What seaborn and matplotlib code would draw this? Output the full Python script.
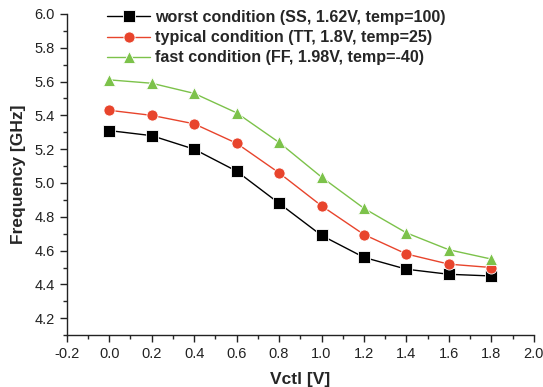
import matplotlib
matplotlib.use("Agg")
import matplotlib.pyplot as plt
from matplotlib.ticker import MultipleLocator, FormatStrFormatter
import seaborn as sns
import pandas as pd

vctl = [0.0, 0.2, 0.4, 0.6, 0.8, 1.0, 1.2, 1.4, 1.6, 1.8]
worst = [5.31, 5.28, 5.20, 5.07, 4.88, 4.69, 4.56, 4.49, 4.46, 4.45]
typical = [5.43, 5.40, 5.35, 5.235, 5.06, 4.865, 4.695, 4.58, 4.52, 4.50]
fast = [5.61, 5.59, 5.53, 5.415, 5.24, 5.035, 4.85, 4.705, 4.605, 4.55]

series_names = [
    "worst condition (SS, 1.62V, temp=100)",
    "typical condition (TT, 1.8V, temp=25)",
    "fast condition (FF, 1.98V, temp=-40)",
]
colors = ["#000000", "#e8442c", "#7cc24a"]
markers = ["s", "o", "^"]

df = pd.concat([
    pd.DataFrame({"Vctl": vctl, "Freq": vals, "cond": name})
    for name, vals in zip(series_names, [worst, typical, fast])
])

sns.set_style("ticks")
plt.rcParams["font.family"] = ["Liberation Sans", "DejaVu Sans"]

fig = plt.figure(figsize=(5.43, 3.87), dpi=100)
ax = fig.add_axes([0.123, 0.134, 0.860, 0.830])

for name, col, mk in zip(series_names, colors, markers):
    sub = df[df["cond"] == name]
    sns.lineplot(data=sub, x="Vctl", y="Freq", ax=ax, color=col, marker=mk,
                 markersize=8, markeredgecolor="white",
                 markeredgewidth=0.6, linewidth=1.0, label=name)

ax.set_xlim(-0.2, 2.0)
ax.set_ylim(4.1, 6.0)
ax.set_xticks([-0.2, 0.0, 0.2, 0.4, 0.6, 0.8, 1.0, 1.2, 1.4, 1.6, 1.8, 2.0])
ax.set_yticks([4.2, 4.4, 4.6, 4.8, 5.0, 5.2, 5.4, 5.6, 5.8, 6.0])
ax.xaxis.set_minor_locator(MultipleLocator(0.1))
ax.yaxis.set_minor_locator(MultipleLocator(0.1))
ax.xaxis.set_major_formatter(FormatStrFormatter("%.1f"))
ax.yaxis.set_major_formatter(FormatStrFormatter("%.1f"))
ax.tick_params(axis="both", which="major", direction="out", length=5, width=1.0,
               labelsize=10.5, colors="#222222")
ax.tick_params(axis="both", which="minor", direction="out", length=3, width=1.0)

for side in ["top", "right"]:
    ax.spines[side].set_visible(False)
for side in ["left", "bottom"]:
    ax.spines[side].set_linewidth(1.0)
    ax.spines[side].set_color("#222222")

ax.set_xlabel("Vctl [V]", fontsize=12.5, fontweight="bold", labelpad=8)
ax.set_ylabel("Frequency [GHz]", fontsize=12.5, fontweight="bold", labelpad=6)

leg = ax.legend(loc="upper left", bbox_to_anchor=(0.086, 1.012), frameon=False,
                prop={"weight": "bold", "size": 11.6}, handlelength=2.7,
                handletextpad=0.3, labelspacing=0.32, borderpad=0,
                borderaxespad=0)

fig.savefig("out.png", dpi=100)
